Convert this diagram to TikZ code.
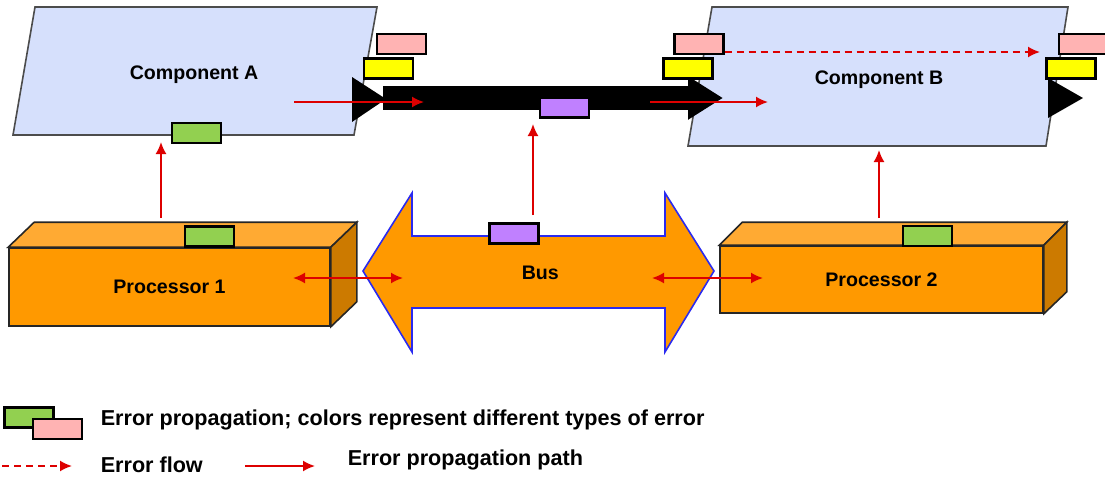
\documentclass[tikz,border=0pt]{standalone}
\usepackage{fontspec}
\setmainfont{Liberation Sans}
\usepackage{tikz}
\usetikzlibrary{arrows}
\usetikzlibrary{arrows.meta}
\usetikzlibrary{shapes}
\usetikzlibrary{positioning}
\usetikzlibrary{calc}
\usepackage{xcolor}
\definecolor{compblue}{HTML}{D6E0FC}
\definecolor{procfront}{HTML}{FF9900}
\definecolor{proctop}{HTML}{FFAA33}
\definecolor{procside}{HTML}{CC7A00}
\definecolor{errgreen}{HTML}{92D050}
\definecolor{errpink}{HTML}{FFB3B3}
\definecolor{erryellow}{HTML}{FFFF00}
\definecolor{errpurple}{HTML}{C080FF}
\definecolor{errred}{HTML}{DD0000}
\definecolor{busblue}{HTML}{2A2AF0}
\tikzset{
  % Common styles for the diagram
  >=latex,
  port/.style={draw=black, line width=1.2pt, fill=#1, minimum width=24.5pt, minimum height=10pt, inner sep=0pt},
  txt/.style={font=\bfseries\fontsize{9.8}{12}\selectfont, inner sep=0pt},
  legtxt/.style={font=\bfseries\fontsize{10.8}{13}\selectfont, inner sep=0pt, anchor=base west}
}

\begin{document}
\begin{tikzpicture}[x=0.5pt, y=-0.5pt, thick]
    % Define styles
    \tikzstyle{comp} = [draw=black!70, line width=0.8pt, fill=compblue]
    \tikzstyle{proc} = [draw=black!85, line width=0.8pt, fill=procfront, text depth=0pt, font=\bfseries\fontsize{9.8}{12}\selectfont]
    \tikzstyle{face} = [draw=black!85, line width=0.8pt]
    \tikzstyle{line} = [draw=errred, line width=0.9pt, -{Latex[length=6pt,width=5.5pt]}]
    \tikzstyle{both} = [draw=errred, line width=0.9pt, {Latex[length=6pt,width=5.5pt]}-{Latex[length=6pt,width=5.5pt]}]
    \tikzstyle{flow} = [line, dash pattern=on 3.5pt off 2.5pt]
    \tikzstyle{bigarrow} = [draw=black, line width=12pt, -{Triangle[length=17.5pt,width=20.5pt]}]

    \useasboundingbox (0,0) rectangle (1105,478);

    % Components
    \path[comp] (35,7) -- (377,7) -- (354,135) -- (13,135) -- cycle;
    \path[comp] (712,7) -- (1068,7) -- (1046,146) -- (688,146) -- cycle;
    \node[txt, anchor=base west] (compA) at (129,79) {Component A};
    \node[txt, anchor=base west] (compB) at (814,84) {Component B};

    % Processors
    \node[proc, minimum width=160.5pt, minimum height=39pt] (p1) at (169.5,287) {Processor 1};
    \path[face, fill=proctop] (p1.north west) -- ++(26,-25) -- ([shift={(26,-25)}]p1.north east) -- (p1.north east) -- cycle;
    \path[face, fill=procside] (p1.north east) -- ++(26,-25) -- ([shift={(26,-25)}]p1.south east) -- (p1.south east) -- cycle;
    \node[proc, minimum width=161.5pt, minimum height=33.5pt] (p2) at (881.5,279.5) {Processor 2};
    \path[face, fill=proctop] (p2.north west) -- ++(23,-23) -- ([shift={(23,-23)}]p2.north east) -- (p2.north east) -- cycle;
    \path[face, fill=procside] (p2.north east) -- ++(23,-23) -- ([shift={(23,-22)}]p2.south east) -- (p2.south east) -- cycle;

    % Bus
    \path[draw=busblue, line width=0.8pt, fill=procfront] (363,271) -- (412,193) -- (412,236) -- (665,236) -- (665,193)
      -- (714,271) -- (665,352) -- (665,308) -- (412,308) -- (412,352) -- cycle;
    \node[txt, anchor=base west] (bus) at (521,279) {Bus};

    % Connection A to B
    \path[fill=black] (352,77) -- (386,99) -- (352,122) -- cycle;
    \coordinate (aout) at (383,98);
    \coordinate (bin) at (723,98);
    \draw[bigarrow] (aout) -- (bin);
    \path[fill=black] (1048,78) -- (1083,98) -- (1048,118) -- cycle;

    % Error ports
    \node[port=errgreen] (agreen) at (196.5,133) {};
    \node[port=errpink] (apink) at (401.5,44) {};
    \node[port=erryellow] (ayellow) at (388.5,68.5) {};
    \node[port=errpurple] (cpurple) at (564.5,107.5) {};
    \node[port=errpink] (bpinkin) at (699,44) {};
    \node[port=erryellow] (byellowin) at (688,68.5) {};
    \node[port=errpink] (bpinkout) at (1083.5,44) {};
    \node[port=erryellow] (byellowout) at (1071,68.5) {};
    \node[port=errgreen] (p1green) at (209.5,236.5) {};
    \node[port=errpurple] (buspurple) at (514,233.5) {};
    \node[port=errgreen] (p2green) at (927.5,236) {};

    % Error paths
    \coordinate (p1up) at (161,218);
    \coordinate (ain) at (161,142);
    \coordinate (busup) at (533,215);
    \coordinate (cin) at (533,124);
    \coordinate (p2up) at (879,218);
    \coordinate (bbot) at (879,150);
    \coordinate (ainner) at (294,102);
    \coordinate (cmid) at (424,102);
    \coordinate (cend) at (650,102);
    \coordinate (binner) at (768,102);
    \coordinate (bflow) at (1040,52);
    \coordinate (p1side) at (293,278);
    \coordinate (busleft) at (403,278);
    \coordinate (busright) at (652,278);
    \coordinate (p2side) at (763,278);
    \path [line] (p1up) -- (ain);
    \path [line] (busup) -- (cin);
    \path [line] (p2up) -- (bbot);
    \path [line] (ainner) -- (cmid);
    \path [line] (cend) -- (binner);
    \path [flow] (bpinkin.east |- bflow) -- (bflow);
    \path [both] (p1side) -- (busleft);
    \path [both] (busright) -- (p2side);

    % Legend
    \node[port=errgreen] (leggreen) at (29,417.5) {};
    \node[port=errpink] (legpink) at (57.5,429) {};
    \node[legtxt] (legport) at (100,425) {Error propagation; colors represent different types of error};
    \coordinate (flowS) at (2,466);
    \coordinate (flowE) at (72,466);
    \path [flow] (flowS) -- (flowE);
    \node[legtxt] (legflow) at (100,472) {Error flow};
    \coordinate (pathS) at (245,466);
    \coordinate (pathE) at (315,466);
    \path [line] (pathS) -- (pathE);
    \node[legtxt] (legpath) at (347,465) {Error propagation path};
\end{tikzpicture}
\end{document}
